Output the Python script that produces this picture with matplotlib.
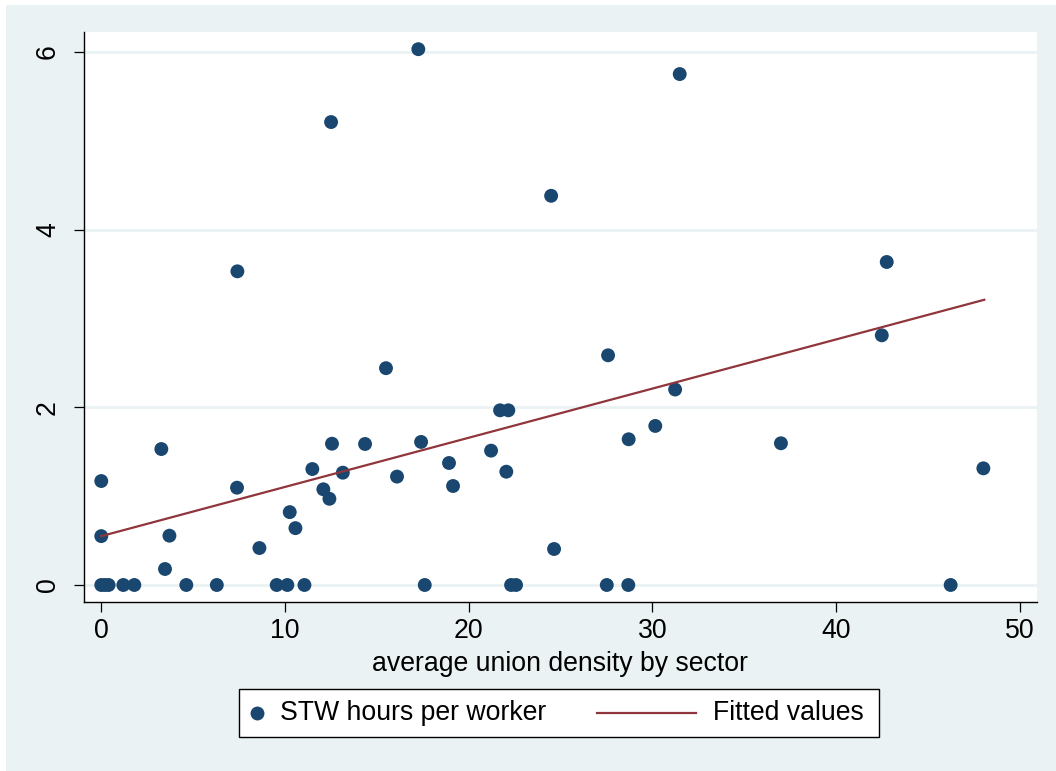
import matplotlib.pyplot as plt
from matplotlib.patches import Rectangle
from matplotlib.lines import Line2D

plt.rcParams['font.family'] = ['Liberation Sans', 'DejaVu Sans']

# union density (x) and STW hours per worker (y)
union_density = [0, 0.2, 0.4, 1.2, 1.8, 0, 0, 3.27, 3.47, 3.71, 4.63, 6.29,
                 7.39, 7.41, 8.61, 9.55, 10.13, 10.26, 10.57, 11.06, 11.49,
                 12.09, 12.42, 12.51, 12.56, 13.15, 14.36, 15.50, 16.1, 17.26,
                 17.41, 17.61, 18.93, 19.15, 21.22, 21.71, 22.05, 22.16, 22.31,
                 22.58, 24.49, 24.65, 27.52, 27.59, 28.69, 28.71, 30.16, 31.24,
                 31.49, 37.0, 42.49, 42.76, 46.24, 48.02]
stw_hours = [0, 0, 0, 0, 0, 1.17, 0.55, 1.53, 0.18, 0.555, 0, 0,
             1.095, 3.53, 0.416, 0, 0, 0.82, 0.64, 0, 1.305,
             1.077, 0.97, 5.21, 1.59, 1.264, 1.587, 2.44, 1.22, 6.03,
             1.61, 0, 1.373, 1.114, 1.512, 1.966, 1.275, 1.966, 0,
             0, 4.38, 0.405, 0, 2.585, 0, 1.64, 1.79, 2.20,
             5.75, 1.595, 2.81, 3.635, 0, 1.313]

# fitted values at the ends of the line
fit_x = [0, 48.07]
fit_y = [0.55, 3.21]

xticks = [0, 10, 20, 30, 40, 50]
yticks = [0, 2, 4, 6]

navy = '#1a476f'
maroon = '#90353b'
bg = '#eaf2f3'
fs = 19.2
msize = 10.0

W, H = 1056, 771
fig = plt.figure(figsize=(W / 100, H / 100), dpi=100, facecolor='white')

# stata-like graph region
fig.add_artist(Rectangle((6 / W, 0), 1 - 6 / W, 1 - 5 / H, transform=fig.transFigure,
                         facecolor=bg, edgecolor='none', zorder=0))

ax = fig.add_axes([84 / W, 169.3 / H, (1037 - 84) / W, (738.7 - 169.3) / H])
ax.set_facecolor('white')

ax.scatter(union_density, stw_hours, s=msize ** 2, color=navy, edgecolors='none',
           zorder=3, clip_on=False)
ax.plot(fit_x, fit_y, color=maroon, lw=1.6, zorder=4)

ax.set_xlim(-0.94, 50.94)
ax.set_ylim(-0.188, 6.22)
ax.set_xticks(xticks)
ax.set_yticks(yticks)
ax.set_yticklabels([str(t) for t in yticks], rotation=90, va='center')

for s in ['top', 'right']:
    ax.spines[s].set_visible(False)
for s in ['left', 'bottom']:
    ax.spines[s].set_linewidth(1.0)
    ax.spines[s].set_color('black')

ax.grid(axis='y', color=bg, lw=2)
ax.set_axisbelow(True)
ax.tick_params(axis='both', direction='out', length=7.5, width=0.9,
               labelsize=fs, colors='black')
ax.tick_params(axis='x', pad=4)
ax.tick_params(axis='y', pad=9)

ax.set_xlabel('average union density by sector', fontsize=fs, labelpad=5)

# legend box drawn by hand so the spacing follows the reference
def fx(px):
    return px / W

def fy(py):
    return 1 - py / H

fig.add_artist(Rectangle((fx(239), fy(737)), fx(879) - fx(239), fy(689) - fy(737),
                         transform=fig.transFigure, facecolor='white',
                         edgecolor='black', lw=1.0, zorder=5))
fig.add_artist(Line2D([fx(257)], [fy(713)], marker='o', markersize=msize, color=navy,
                      markeredgewidth=0, transform=fig.transFigure, zorder=6))
fig.text(fx(280), fy(713), 'STW hours per worker', fontsize=fs, va='center',
         ha='left', zorder=6)
fig.add_artist(Line2D([fx(597), fx(696)], [fy(713), fy(713)], color=maroon, lw=1.6,
                      transform=fig.transFigure, zorder=6))
fig.text(fx(713), fy(713), 'Fitted values', fontsize=fs, va='center',
         ha='left', zorder=6)

fig.savefig('out.png', dpi=100, facecolor='white')
